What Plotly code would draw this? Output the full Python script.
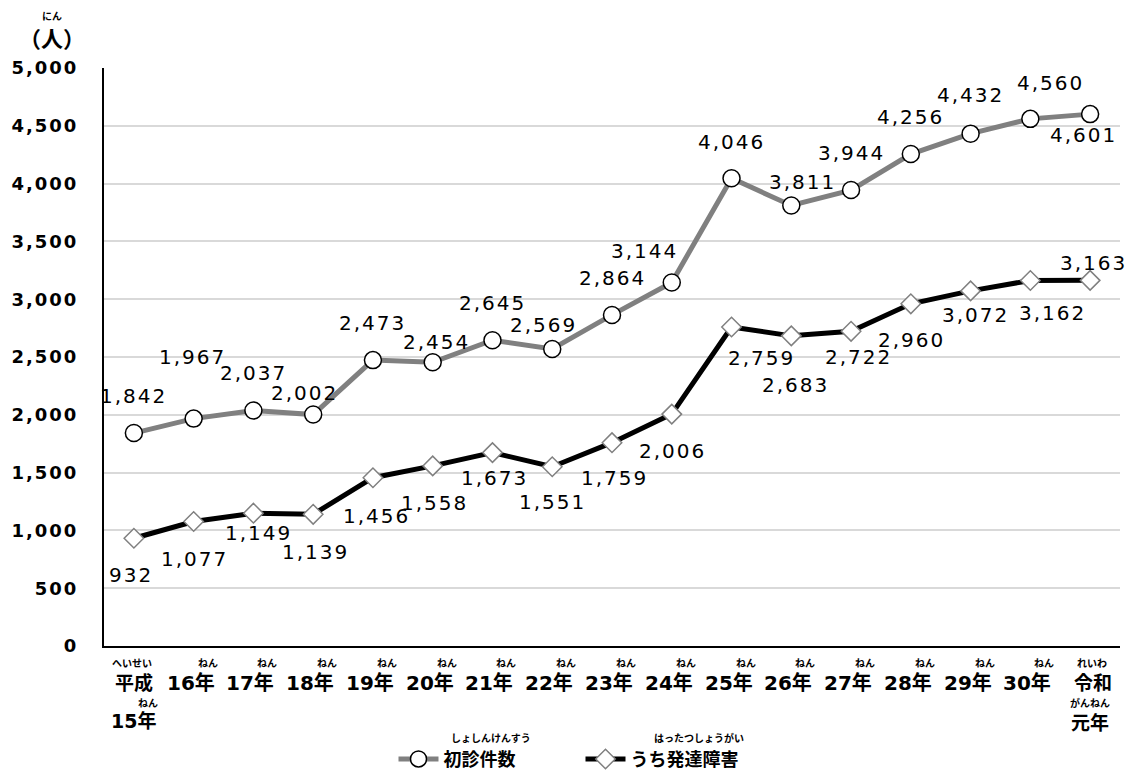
import plotly.graph_objects as go

# ---- data ----
categories = ["平成15年", "16年", "17年", "18年", "19年", "20年", "21年", "22年", "23年",
              "24年", "25年", "26年", "27年", "28年", "29年", "30年", "令和元年"]
first_visits = [1842, 1967, 2037, 2002, 2473, 2454, 2645, 2569, 2864, 3144,
                4046, 3811, 3944, 4256, 4432, 4560, 4601]
developmental = [932, 1077, 1149, 1139, 1456, 1558, 1673, 1551, 1759, 2006,
                 2759, 2683, 2722, 2960, 3072, 3162, 3163]
y_tick_values = [0, 500, 1000, 1500, 2000, 2500, 3000, 3500, 4000, 4500, 5000]
series_names = ["初診件数", "うち発達障害"]
series_ruby = ["しょしんけんすう", "はったつしょうがい"]

# ---- styles ----
NUM_FONT = "DejaVu Sans, Noto Sans CJK JP"
JP_FONT = "Noto Sans CJK JP"
LS = "letter-spacing:2px"

# label offsets (screen px: dx, dy with dy downward)
off1 = [(0, -37), (-1, -62), (0, -38), (-9, -22), (0, -37), (4, -20), (0, -37), (-9, -24),
        (0, -37), (-27, -32), (0, -36), (11, -23), (0, -37), (0, -37), (0, -39), (20, -36), (-7, 21)]
off2 = [(-3, 37), (1, 37), (5, 20), (2, 38), (4, 38), (2, 37), (2, 25), (0, 35), (2, 35),
        (1, 37), (30, 31), (4, 49), (7, 26), (1, 36), (5, 24), (22, 33), (3, -17)]

fig = go.Figure()
fig.add_trace(go.Scatter(
    x=categories, y=first_visits, name=series_names[0], mode="lines+markers",
    line=dict(color="#808080", width=5),
    marker=dict(symbol="circle", size=17, color="white", line=dict(color="black", width=1.5)),
))
fig.add_trace(go.Scatter(
    x=categories, y=developmental, name=series_names[1], mode="lines+markers",
    line=dict(color="black", width=5),
    marker=dict(symbol="diamond", size=15, color="white", line=dict(color="#808080", width=1.5)),
))

ann = []
def fmt(v):
    return f"{v:,}"

for series, offs in ((first_visits, off1), (developmental, off2)):
    for c, v, (dx, dy) in zip(categories, series, offs):
        ann.append(dict(x=c, y=v, xref="x", yref="y", showarrow=False,
                        text=f"<span style='{LS}'>{fmt(v)}</span>",
                        font=dict(family=NUM_FONT, size=20, color="black"),
                        xshift=dx, yshift=-dy, xanchor="center", yanchor="middle"))

def small(text, x, xshift, yshift):
    return dict(x=x, y=0, xref="x", yref="paper", showarrow=False, text=text,
                font=dict(family=JP_FONT, size=10, color="black", weight="bold"),
                xshift=xshift, yshift=yshift, yanchor="middle")

def big(text, x, xshift, yshift, family, size=20):
    return dict(x=x, y=0, xref="x", yref="paper", showarrow=False, text=text,
                font=dict(family=family, size=size, color="black", weight="bold"),
                xshift=xshift, yshift=yshift, yanchor="middle")

# x-axis category labels with furigana
for i, c in enumerate(categories):
    if i == 0:
        ann.append(small("へいせい", c, -2, -16))
        ann.append(big("平成", c, 0, -35, JP_FONT, 19))
        ann.append(small("ねん", c, 14, -56))
        ann.append(big("15年", c, 0, -75, NUM_FONT, 19))
    elif i == len(categories) - 1:
        ann.append(small("れいわ", c, 2, -16))
        ann.append(big("令和", c, 3, -35, JP_FONT, 19))
        ann.append(small("がんねん", c, 0, -56))
        ann.append(big("元年", c, 0, -75, JP_FONT, 19))
    else:
        ann.append(small("ねん", c, 14, -16))
        ann.append(big(c, c, -3, -37, NUM_FONT))

# y-axis unit title with furigana
ann.append(dict(x=-0.051, y=1, xref="paper", yref="paper", showarrow=False, text="にん",
                font=dict(family=JP_FONT, size=10, color="black", weight="bold"),
                yshift=53, xanchor="center", yanchor="middle"))
ann.append(dict(x=-0.051, y=1, xref="paper", yref="paper", showarrow=False, text="（人）",
                font=dict(family=JP_FONT, size=22, color="black", weight="bold"),
                yshift=31, xanchor="center", yanchor="middle"))

# legend furigana
ann.append(dict(x=0.381, y=0, xref="paper", yref="paper", showarrow=False, text=series_ruby[0],
                font=dict(family=JP_FONT, size=10, color="black", weight="bold"),
                yshift=-91, xanchor="center", yanchor="middle"))
ann.append(dict(x=0.586, y=0, xref="paper", yref="paper", showarrow=False, text=series_ruby[1],
                font=dict(family=JP_FONT, size=10, color="black", weight="bold"),
                yshift=-91, xanchor="center", yanchor="middle"))

fig.update_layout(
    width=1134, height=774,
    margin=dict(l=104, r=14, t=68, b=128),
    paper_bgcolor="white", plot_bgcolor="white",
    showlegend=True,
    legend=dict(orientation="h", xref="container", yref="container",
                x=0.347, xanchor="left", y=0.019, yanchor="middle",
                font=dict(family=JP_FONT, size=18, color="black", weight="bold"),
                entrywidth=132, entrywidthmode="pixels", itemwidth=40,
                bgcolor="rgba(0,0,0,0)"),
    annotations=ann,
    xaxis=dict(type="category", range=[-0.5, 16.5], showticklabels=False, showgrid=False,
               showline=True, linecolor="black", linewidth=2, ticks="", zeroline=False),
    yaxis=dict(range=[0, 5000], tickvals=y_tick_values,
               ticktext=[f"<span style='{LS}'>{v:,}</span>" for v in y_tick_values],
               showgrid=True, gridcolor="#d9d9d9", gridwidth=1.5,
               showline=True, linecolor="black", linewidth=2, zeroline=False,
               ticks="", ticklabelstandoff=20,
               tickfont=dict(family=NUM_FONT, size=18, color="black", weight="bold")),
)

fig.write_html("out.html", config={"displayModeBar": False},
               post_script="document.body.style.margin='0';")
